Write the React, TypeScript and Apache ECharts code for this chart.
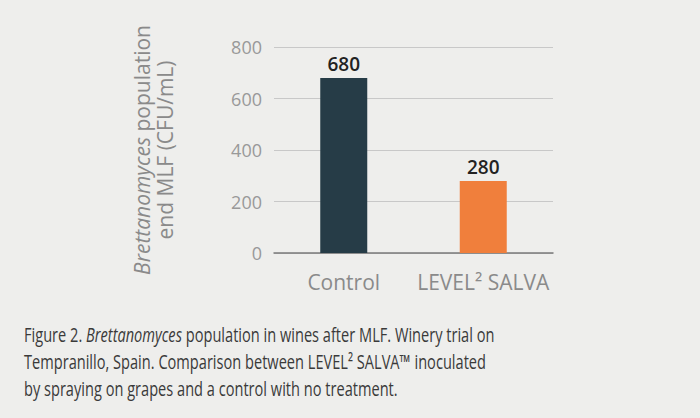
import React, { useEffect, useRef } from 'react'
import * as echarts from 'echarts'

const categories = ['Control', 'LEVEL² SALVA']
const populations = [680, 280]
const barColors = ['#263c47', '#f07f3c']
const captionLines = [
  'Figure 2. {i|Brettanomyces} population in wines after MLF. Winery trial on',
  'Tempranillo, Spain. Comparison between LEVEL² SALVA™ inoculated',
  'by spraying on grapes and a control with no treatment.'
]

const FONT = '"Open Sans", "Noto Sans", sans-serif'

const App: React.FC = () => {
  const chartRef = useRef<HTMLDivElement | null>(null)

  useEffect(() => {
    document.body.style.margin = '0'
    if (!chartRef.current) return
    const chart = echarts.init(chartRef.current, undefined, { renderer: 'svg' })

    const option: echarts.EChartsOption = {
      animation: false,
      backgroundColor: '#eeeeec',
      grid: { left: 274, right: 147, top: 47, bottom: 165 },
      xAxis: {
        type: 'category',
        data: categories,
        axisLine: { lineStyle: { color: '#7a7a7a', width: 1.5 } },
        axisTick: { show: false },
        axisLabel: { color: '#8a8a8a', fontSize: 21, fontFamily: FONT, margin: 18, interval: 0 }
      },
      yAxis: {
        type: 'value',
        min: 0,
        max: 800,
        interval: 200,
        name: '{i|Brettanomyces} population\nend MLF (CFU/mL)',
        nameLocation: 'middle',
        nameGap: 98,
        nameRotate: 90,
        nameTextStyle: {
          color: '#8a8a8a',
          fontSize: 21,
          fontFamily: FONT,
          lineHeight: 23,
          rich: {
            i: { fontStyle: 'italic', color: '#8a8a8a', fontSize: 21, fontFamily: FONT, lineHeight: 23 }
          }
        },
        axisLabel: { color: '#999999', fontSize: 18, fontFamily: FONT, margin: 12 },
        splitLine: { lineStyle: { color: '#c8c8c8', width: 1 } }
      },
      series: [
        {
          type: 'bar',
          barWidth: 47,
          data: populations.map((v, i) => ({ value: v, itemStyle: { color: barColors[i] } })),
          label: {
            show: true,
            position: 'top',
            distance: 4,
            color: '#222222',
            fontSize: 19,
            fontWeight: 600,
            fontFamily: FONT
          }
        }
      ],
      graphic: captionLines.map((line, i) => ({
        type: 'text',
        x: 24,
        y: 334 + i * 27,
        scaleX: 0.73,
        style: {
          text: line,
          fill: '#3a3a3a',
          fontSize: 20,
          fontFamily: FONT,
          verticalAlign: 'middle',
          rich: {
            i: { fontStyle: 'italic', fill: '#3a3a3a', fontSize: 20, fontFamily: FONT }
          }
        }
      }))
    }

    chart.setOption(option)
    return () => chart.dispose()
  }, [])

  return <div ref={chartRef} style={{ width: 700, height: 418 }} />
}

export default App
